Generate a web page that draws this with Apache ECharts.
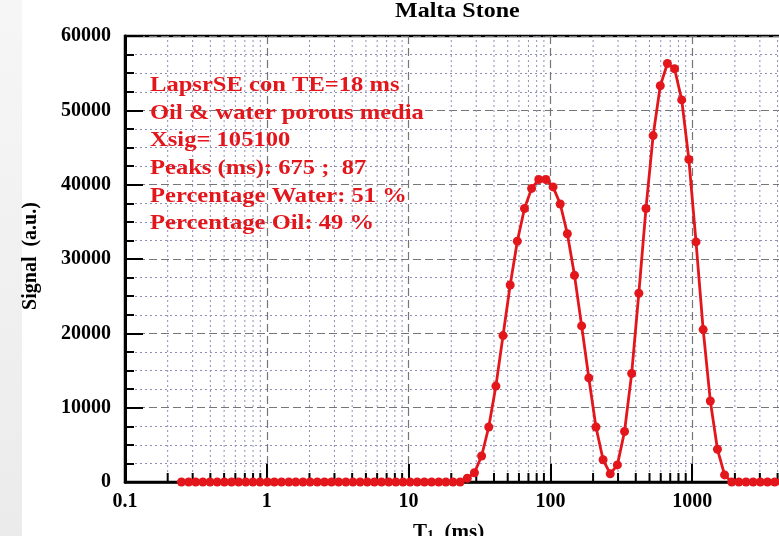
<!DOCTYPE html>
<html>
<head>
<meta charset="utf-8">
<script src="https://cdn.jsdelivr.net/npm/echarts@6/dist/echarts.min.js"></script>
<style>
  html, body { margin: 0; padding: 0; background: #ffffff; }
  #chart { width: 779px; height: 536px; }
</style>
</head>
<body>
<div id="chart"></div>
<script>
// T1 relaxation times (ms), log-spaced sampling of the distribution
const relaxationTimes = [
  0.250, 0.281, 0.315, 0.354, 0.398, 0.447, 0.502, 0.564, 0.633, 0.711,
  0.798, 0.896, 1.01, 1.13, 1.27, 1.43, 1.60, 1.80, 2.02, 2.27,
  2.55, 2.86, 3.21, 3.61, 4.05, 4.55, 5.11, 5.74, 6.45, 7.24,
  8.13, 9.13, 10.25, 11.51, 12.93, 14.52, 16.31, 18.31, 20.57, 23.10,
  25.94, 29.13, 32.72, 36.75, 41.27, 46.35, 52.05, 58.45, 65.65, 73.73,
  82.79, 92.98, 104.4, 117.3, 131.7, 147.9, 166.1, 186.6, 209.5, 235.3,
  264.2, 296.8, 333.3, 374.3, 420.4, 472.1, 530.2, 595.5, 668.7, 751.0,
  843.4, 947.1, 1064, 1195, 1342, 1507, 1692, 1900, 2134, 2397,
  2692, 3023, 3395, 3813, 4282
];

// Signal amplitude (a.u.) at each relaxation time
const signal = [
  0, 0, 0, 0, 0, 0, 0, 0, 0, 0,
  0, 0, 0, 0, 0, 0, 0, 0, 0, 0,
  0, 0, 0, 0, 0, 0, 0, 0, 0, 0,
  0, 0, 0, 0, 0, 0, 0, 0, 0, 0,
  500, 1250, 3500, 7400, 12900, 19700, 26500, 32400, 36800, 39500,
  40700, 40700, 39700, 37400, 33400, 27800, 21000, 14000, 7400, 3000,
  1100, 2300, 6800, 14600, 25400, 36800, 46600, 53300, 56300, 55600,
  51400, 43400, 32300, 20500, 10900, 4400, 950, 0, 0, 0,
  0, 0, 0, 0, 0
];

// Minor positions on the logarithmic time axis
const xMinorTicks = [
  0.2, 0.3, 0.4, 0.5, 0.6, 0.7, 0.8, 0.9,
  2, 3, 4, 5, 6, 7, 8, 9,
  20, 30, 40, 50, 60, 70, 80, 90,
  200, 300, 400, 500, 600, 700, 800, 900,
  2000, 3000, 4000, 5000, 6000, 7000, 8000, 9000
];

const chartTitle = 'Malta Stone';
const yAxisTitle = 'Signal  (a.u.)';
const noteLines = [
  'LapsrSE con TE=18 ms',
  'Oil & water porous media',
  'Xsig= 105100',
  'Peaks (ms): 675 ;  87',
  'Percentage Water: 51 %',
  'Percentage Oil: 49 %'
];

const SERIF = '"Liberation Serif", "Times New Roman", serif';
const RED = '#e3161c';
const Y_MAX = 60000;

const chart = echarts.init(document.getElementById('chart'), null, { renderer: 'canvas' });

const points = relaxationTimes.map((t, i) => [t, signal[i]]);
const plainNumber = v => String(v);

chart.setOption({
  backgroundColor: '#ffffff',
  animation: false,
  grid: {
    left: 125,
    right: -55,
    top: 36,
    bottom: 54,
    outerBoundsMode: 'none',
    containLabel: false,
    show: true,
    borderColor: '#000000',
    borderWidth: 2.5,
    backgroundColor: 'transparent'
  },
  xAxis: {
    type: 'log',
    logBase: 10,
    min: 0.1,
    max: 10000,
    axisLine: { show: true, lineStyle: { color: '#000', width: 2.5 } },
    axisTick: { show: true, inside: true, length: 18, lineStyle: { color: '#000', width: 2 } },
    axisLabel: {
      color: '#000',
      fontFamily: SERIF,
      fontWeight: 'bold',
      fontSize: 20,
      margin: 10,
      formatter: plainNumber
    },
    splitLine: {
      show: true,
      lineStyle: { color: '#767676', width: 1.2, type: [8, 4] }
    }
  },
  yAxis: {
    type: 'value',
    min: 0,
    max: Y_MAX,
    interval: 10000,
    axisLine: { show: true, lineStyle: { color: '#000', width: 3 } },
    axisTick: { show: true, inside: true, length: 18, lineStyle: { color: '#000', width: 2 } },
    minorTick: { show: true, splitNumber: 4, length: 9, lineStyle: { color: '#000', width: 2 } },
    axisLabel: {
      color: '#000',
      fontFamily: SERIF,
      fontWeight: 'bold',
      fontSize: 20,
      margin: 14,
      formatter: plainNumber
    },
    splitLine: {
      show: true,
      lineStyle: { color: '#767676', width: 1.2, type: [8, 4] }
    },
    minorSplitLine: {
      show: true,
      lineStyle: { color: '#8e8eb8', width: 1, type: [2, 3] }
    }
  },
  series: [
    {
      // minor grid lines and inward ticks for the log axis
      type: 'custom',
      z: 1,
      silent: true,
      data: xMinorTicks.map(v => [v, 0]),
      encode: { x: 0, y: 1 },
      renderItem: function (params, api) {
        const v = api.value(0);
        const p0 = api.coord([v, 0]);
        const p1 = api.coord([v, Y_MAX]);
        return {
          type: 'group',
          children: [
            {
              type: 'line',
              shape: { x1: p0[0], y1: p0[1], x2: p1[0], y2: p1[1] },
              style: { stroke: '#8e8eb8', lineWidth: 1, lineDash: [2, 3] }
            },
            {
              type: 'line',
              shape: { x1: p0[0], y1: p0[1], x2: p0[0], y2: p0[1] - 9 },
              style: { stroke: '#000', lineWidth: 2 }
            }
          ]
        };
      }
    },
    {
      type: 'line',
      z: 5,
      data: points,
      clip: false,
      showAllSymbol: true,
      symbol: 'circle',
      symbolSize: 9,
      lineStyle: { color: RED, width: 2.8 },
      itemStyle: { color: RED },
      emphasis: { disabled: true }
    }
  ],
  graphic: [
    {
      type: 'rect',
      left: 0,
      top: 0,
      z: -10,
      shape: { width: 22, height: 536 },
      style: {
        fill: new echarts.graphic.LinearGradient(0, 0, 0, 1, [
          { offset: 0, color: '#f6f6f6' },
          { offset: 1, color: '#ebebeb' }
        ])
      },
      silent: true
    },
    {
      type: 'text',
      x: 395,
      y: 12,
      scaleX: 1.2,
      style: {
        text: chartTitle,
        font: 'bold 20px ' + SERIF,
        fill: '#000',
        textAlign: 'left',
        textVerticalAlign: 'middle'
      }
    },
    {
      type: 'text',
      x: 31,
      y: 256,
      rotation: Math.PI / 2,
      style: {
        text: yAxisTitle,
        font: 'bold 20px ' + SERIF,
        fill: '#000',
        textAlign: 'center',
        textVerticalAlign: 'middle'
      }
    },
    {
      type: 'text',
      x: 413,
      y: 522,
      style: {
        text: '{m|T}{s|1}{m|  (ms)}',
        fill: '#000',
        textVerticalAlign: 'top',
        rich: {
          m: { font: 'bold 21px ' + SERIF, fill: '#000', verticalAlign: 'top' },
          s: { font: 'bold 14px ' + SERIF, fill: '#000', verticalAlign: 'bottom' }
        }
      }
    },
    {
      type: 'text',
      x: 150,
      y: 72,
      scaleX: 1.17,
      z: 10,
      style: {
        text: noteLines.join('\n'),
        font: 'bold 21px ' + SERIF,
        lineHeight: 27.6,
        fill: RED,
        textAlign: 'left',
        textVerticalAlign: 'top'
      }
    }
  ]
});
</script>
</body>
</html>
